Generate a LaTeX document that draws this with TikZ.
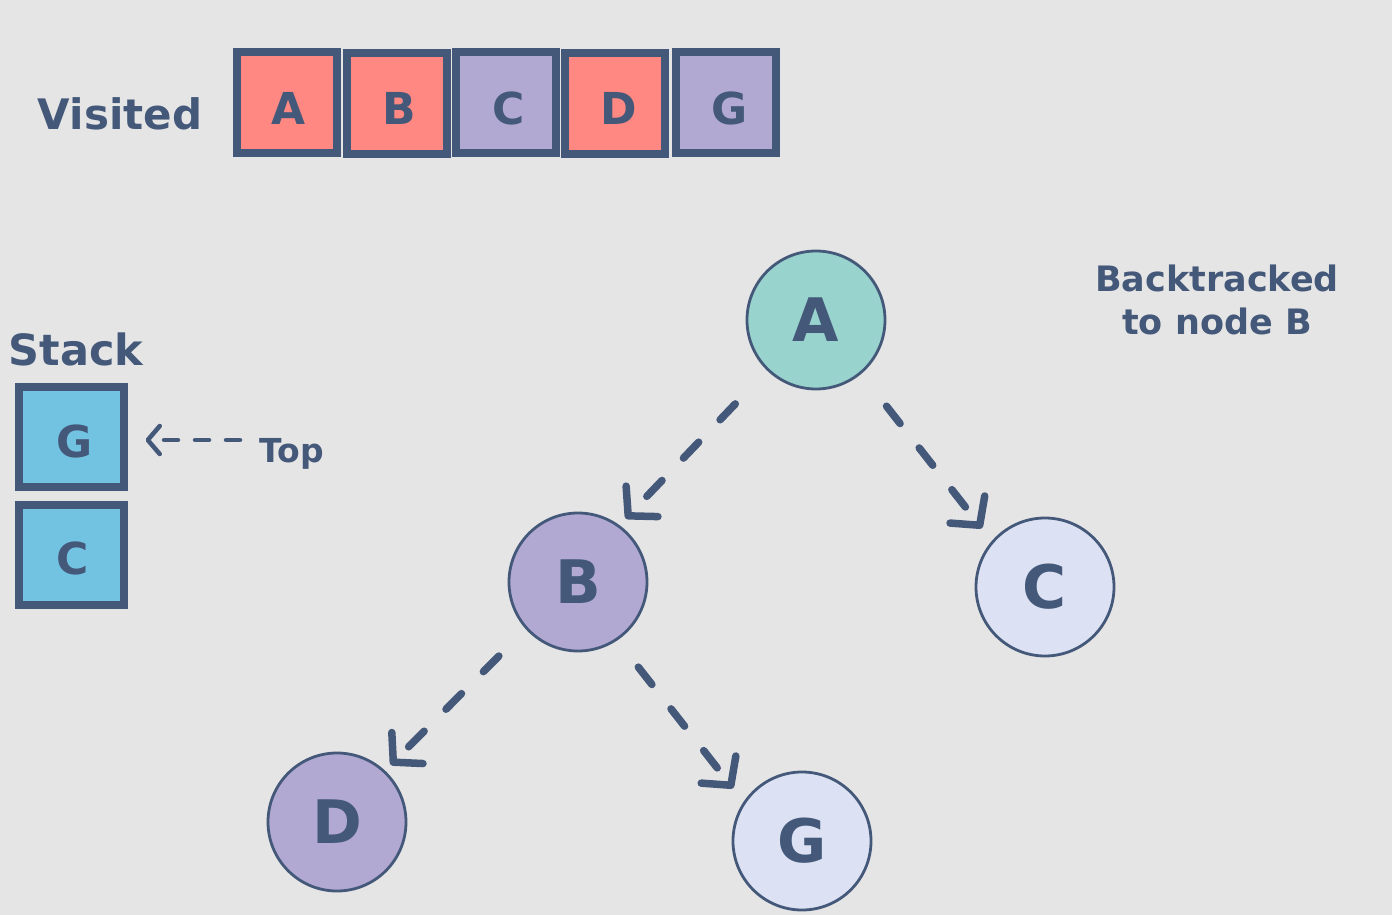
\documentclass[tikz,border=0pt]{standalone}
\usepackage{fontspec}
\setmainfont{DejaVu Sans}
\usetikzlibrary{arrows.meta}
\definecolor{ink}{RGB}{68,88,122}
\definecolor{bgc}{RGB}{229,229,229}
\definecolor{redf}{RGB}{255,136,130}
\definecolor{purf}{RGB}{178,169,211}
\definecolor{tealf}{RGB}{152,211,205}
\definecolor{lightf}{RGB}{220,226,243}
\definecolor{bluef}{RGB}{114,195,226}
\tikzset{
  vbox/.style={draw=ink,line width=8pt,minimum width=100pt,minimum height=101pt,inner sep=0pt,
    text=ink,font=\fontsize{44}{44}\selectfont\bfseries},
  sbox/.style={draw=ink,line width=8pt,minimum width=105pt,minimum height=100pt,inner sep=0pt,
    text=ink,font=\fontsize{44}{44}\selectfont\bfseries},
  boxtext/.style={text=ink,inner sep=0pt,font=\fontsize{44}{44}\selectfont\bfseries},
  tnode/.style={circle,draw=ink,line width=2.8pt,minimum size=138pt,inner sep=0pt,
    text=ink,font=\fontsize{60}{60}\selectfont\bfseries},
  lbl/.style={text=ink,inner sep=0pt,anchor=base},
  edge/.style={draw=ink,line width=7.5pt,line cap=round,line join=round,
    dash pattern=on 22pt off 31pt,
    -{Straight Barb[length=20pt,width=44pt,line cap=round,line join=round]}},
  toparrow/.style={draw=ink,line width=4.5pt,line cap=round,line join=round,
    dash pattern=on 14pt off 17pt,
    -{Straight Barb[length=12pt,width=28pt,line cap=round,line join=round]}}
}
\begin{document}
\begin{tikzpicture}[x=1pt,y=-1pt]
\fill[bgc] (0,0) rectangle (1392,915);
\useasboundingbox (0,0) rectangle (1392,915);

% Visited row
\node[lbl,font=\fontsize{42}{42}\selectfont\bfseries] (visited) at (120,130) {Visited};
\node[vbox,fill=redf] (vA) at (287,103) {};
\node[vbox,fill=redf] (vB) at (397,104) {};
\node[vbox,fill=purf] (vC) at (506,103) {};
\node[vbox,fill=redf] (vD) at (615,104) {};
\node[vbox,fill=purf] (vG) at (726,103) {};
\node[boxtext] (tA) at (289,108) {A};
\node[boxtext] (tB) at (399,108) {B};
\node[boxtext] (tC) at (509,108) {C};
\node[boxtext] (tD) at (619,108) {D};
\node[boxtext] (tG) at (730,108) {G};

% Stack
\node[lbl,font=\fontsize{43}{43}\selectfont\bfseries] (stack) at (76,365) {Stack};
\node[sbox,fill=bluef] (sG) at (71,437) {};
\node[sbox,fill=bluef] (sC) at (71,555) {};
\node[boxtext] (tsG) at (75,441) {G};
\node[boxtext] (tsC) at (73,558) {C};
\node[lbl,font=\fontsize{33}{33}\selectfont\bfseries] (top) at (292,462) {Top};
\coordinate (topstart) at (240,440);
\draw[toparrow,shorten >=18pt] (topstart) -- (topstart -| sG.east);

% Tree
\node[tnode,fill=tealf] (A) at (816,320) {A};
\node[tnode,fill=purf] (B) at (578,582) {B};
\node[tnode,fill=lightf] (C) at (1045,587) {C};
\node[tnode,fill=purf] (D) at (337,822) {D};
\node[tnode,fill=lightf] (G) at (802,841) {G};

\draw[edge,shorten <=46pt,shorten >=9pt] (A.226) -- (B.54);
\draw[edge,shorten <=41pt,shorten >=16pt] (A.310) -- (C.139);
\draw[edge,shorten <=38pt,shorten >=8pt] (B.222) -- (D.47);
\draw[edge,shorten <=34pt,shorten >=17pt] (B.304) -- (G.146);

% Note
\node[text=ink,align=center,inner sep=0pt,font=\fontsize{35}{43}\selectfont\bfseries] (note) at (1217,300) {Backtracked\\to node B};
\end{tikzpicture}
\end{document}
